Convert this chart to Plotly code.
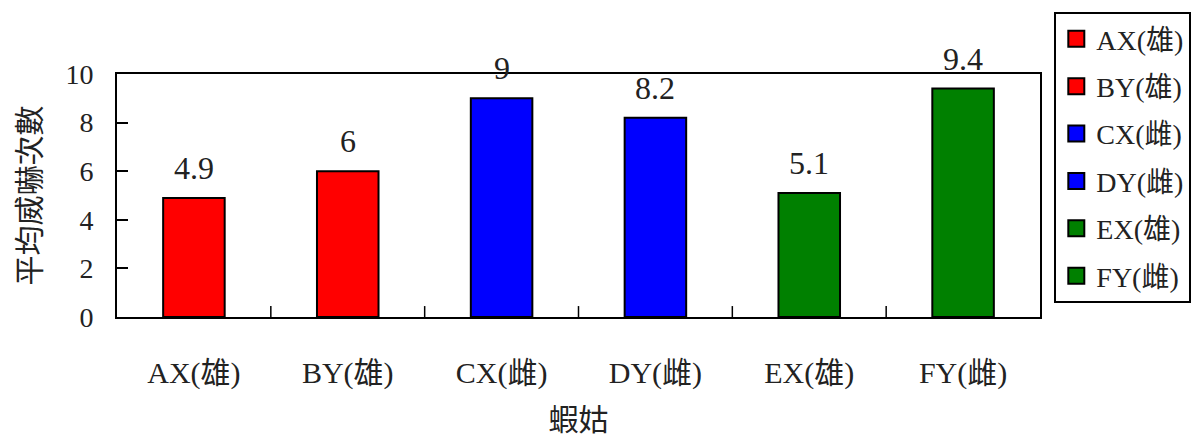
import plotly.graph_objects as go

categories = ["AX(雄)", "BY(雄)", "CX(雌)", "DY(雌)", "EX(雄)", "FY(雌)"]
values = [4.9, 6, 9, 8.2, 5.1, 9.4]
colors = ["#ff0000", "#ff0000", "#0000ff", "#0000ff", "#008000", "#008000"]
y_ticks = [0, 2, 4, 6, 8, 10]

FONT = "'Liberation Serif', 'Times New Roman', 'Noto Sans CJK TC', serif"

fig = go.Figure()
for i, (c, v, col) in enumerate(zip(categories, values, colors)):
    fig.add_trace(go.Bar(
        x=[c], y=[v], name=c, width=0.4, showlegend=False,
        marker=dict(color=col, line=dict(color="black", width=2)),
    ))
    # legend entry (square marker)
    fig.add_trace(go.Scatter(
        x=[None], y=[None], mode="markers", name=c,
        marker=dict(symbol="square", size=16, color=col,
                    line=dict(color="black", width=2)),
        legendgroup=f"g{i}", showlegend=True,
    ))
    fig.add_annotation(
        x=c, y=v, text=f"{v:g}", showarrow=False,
        yanchor="bottom", yshift=10,
        font=dict(size=32, color="#222", family=FONT),
    )

fig.update_layout(
    width=1198, height=436,
    margin=dict(l=117, r=158, t=74, b=119, autoexpand=False),
    plot_bgcolor="white", paper_bgcolor="white",
    barmode="overlay",
    font=dict(family=FONT, color="black"),
    showlegend=True,
    legend=dict(
        x=1.0155, y=1.255, xanchor="left", yanchor="top",
        bordercolor="black", borderwidth=2,
        font=dict(size=28, family=FONT, color="#222"),
        tracegroupgap=8, itemwidth=30, maxheight=420,
        itemsizing="trace",
    ),
    xaxis=dict(
        categoryorder="array", categoryarray=categories,
        showline=True, linecolor="black", linewidth=2, mirror=True,
        ticks="", tickfont=dict(size=30, family=FONT, color="#222"),
        title=dict(text="蝦姑", font=dict(size=30, family=FONT, color="#222"), standoff=22),
        ticklabelstandoff=28,
    ),
    yaxis=dict(
        range=[0, 10], tickvals=y_ticks,
        showline=True, linecolor="black", linewidth=2, mirror=True,
        ticks="inside", ticklen=11, tickwidth=1.5, tickcolor="black",
        showgrid=False, zeroline=False,
        tickfont=dict(size=28, family=FONT, color="#222"),
        ticklabelstandoff=16,
        title=dict(text="平均威嚇次數", font=dict(size=30, family=FONT, color="#222"), standoff=16),
    ),
)

# inside tick marks on x axis at category boundaries
for k in range(1, len(categories)):
    fig.add_shape(type="line", xref="x", yref="paper",
                  x0=k - 0.5, x1=k - 0.5, y0=0, y1=0.045,
                  line=dict(color="black", width=1.5))

fig.write_html("out.html")
